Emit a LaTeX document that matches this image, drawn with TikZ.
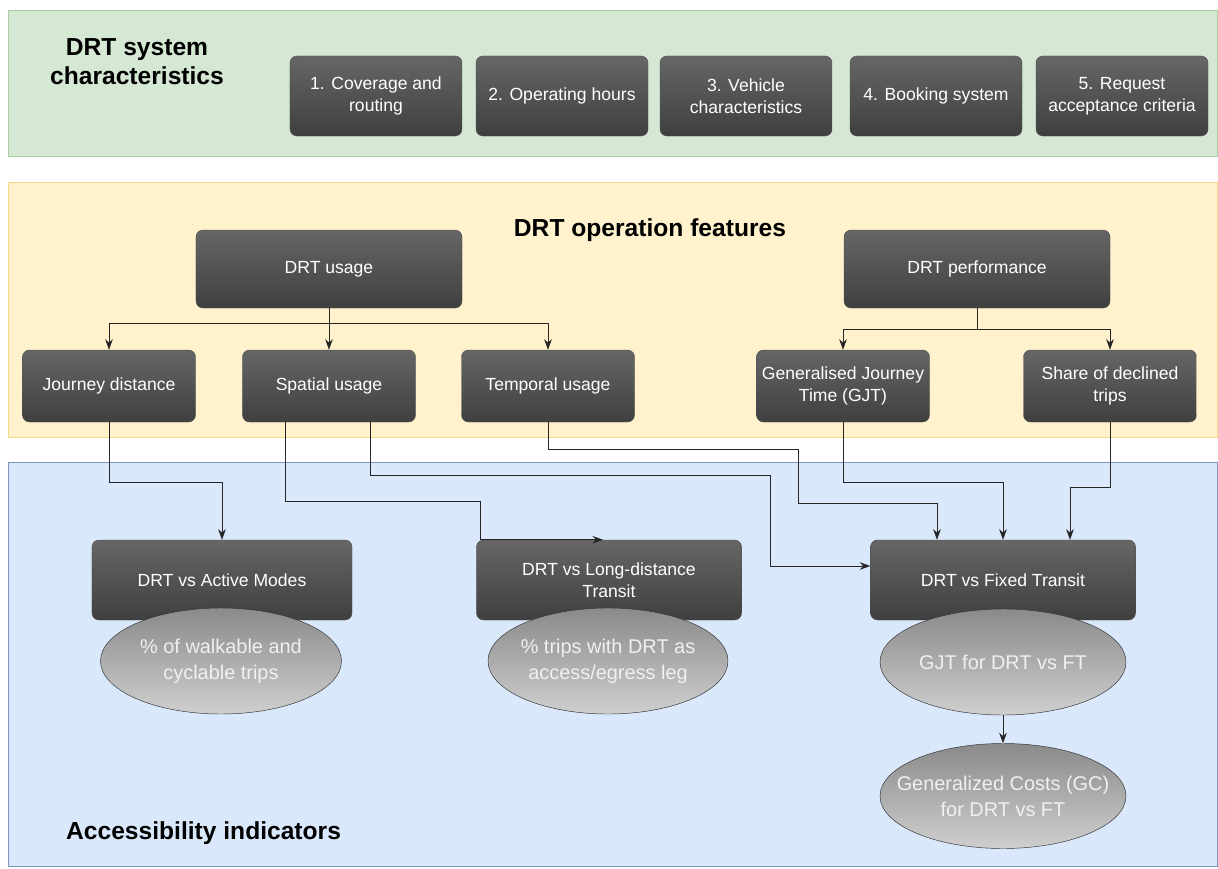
\documentclass[tikz,border=0pt]{standalone}
\usepackage{xcolor}
\usepackage{tikz}
\usepackage{fontspec}
\setmainfont{Liberation Sans}
\usetikzlibrary{shapes,arrows,positioning,calc,arrows.meta}

\definecolor{greenfill}{HTML}{D5E8D4}
\definecolor{greenline}{HTML}{A9CFA0}
\definecolor{yellowfill}{HTML}{FFF2CC}
\definecolor{yellowline}{HTML}{F5D98A}
\definecolor{bluefill}{HTML}{DAE8FC}
\definecolor{blueline}{HTML}{7E96B8}
\definecolor{boxtop}{HTML}{666666}
\definecolor{boxbot}{HTML}{3F3F3F}
\definecolor{elltop}{HTML}{8A8A8A}
\definecolor{ellbot}{HTML}{CFCFCF}

\tikzset{
    darkbox/.style={rectangle, rounded corners=6pt, draw=black!70, top color=boxtop, bottom color=boxbot,
        text=white, align=center, font=\fontsize{15}{19}\selectfont, inner sep=2pt},
    metric/.style={ellipse, draw=black!80, top color=elltop, bottom color=ellbot,
        text=white!94!black, align=center, font=\fontsize{17}{22}\selectfont, inner xsep=-24pt, inner ysep=0pt},
    heading/.style={font=\fontsize{21}{25}\selectfont\bfseries, align=center},
    link/.style={-{Stealth[length=9pt,width=6.5pt]}, line width=0.6pt, black!85},
}

\begin{document}
\begin{tikzpicture}[x=0.03cm, y=-0.03cm]
    \useasboundingbox (0,0) rectangle (1218,869);

    % panels
    \draw [greenline, fill=greenfill] (8,10) rectangle (1217,156);
    \draw [yellowline, fill=yellowfill] (8,182) rectangle (1217,437);
    \draw [blueline, fill=bluefill] (8,462) rectangle (1217,866);

    \node [heading] (sysT) at (137,62) {DRT system\\characteristics};
    \node [heading] (opT) at (650,230) {DRT operation features};
    \node [heading, anchor=west] (accT) at (62,833) {Accessibility indicators};

    % system characteristics
    \node [darkbox, minimum width=5.16cm, minimum height=2.4cm] (c1) at (376,96) {1. Coverage and\\routing};
    \node [darkbox, minimum width=5.16cm, minimum height=2.4cm] (c2) at (562,96) {2. Operating hours};
    \node [darkbox, minimum width=5.16cm, minimum height=2.4cm] (c3) at (746,96) {3. Vehicle\\characteristics};
    \node [darkbox, minimum width=5.16cm, minimum height=2.4cm] (c4) at (936,96) {4. Booking system};
    \node [darkbox, minimum width=5.16cm, minimum height=2.4cm] (c5) at (1122,96) {5. Request\\acceptance criteria};

    % operation features
    \node [darkbox, minimum width=7.98cm, minimum height=2.34cm] (usage) at (329,269) {DRT usage};
    \node [darkbox, minimum width=7.98cm, minimum height=2.34cm] (perf) at (977,269) {DRT performance};

    \node [darkbox, minimum width=5.19cm, minimum height=2.16cm] (jd) at (109,386) {Journey distance};
    \node [darkbox, minimum width=5.19cm, minimum height=2.16cm] (sp) at (329,386) {Spatial usage};
    \node [darkbox, minimum width=5.19cm, minimum height=2.16cm] (tu) at (548,386) {Temporal usage};
    \node [darkbox, minimum width=5.19cm, minimum height=2.16cm] (gjt) at (843,386) {Generalised Journey\\Time (GJT)};
    \node [darkbox, minimum width=5.19cm, minimum height=2.16cm] (sh) at (1110,386) {Share of declined\\trips};

    \coordinate (ubus) at (329,323);
    \draw [line width=0.6pt, black!85] (usage) -- (ubus);
    \draw [link] (ubus) -| (jd);
    \draw [link] (ubus) -- (sp);
    \draw [link] (ubus) -| (tu);

    \coordinate (pbus) at (977,329);
    \draw [line width=0.6pt, black!85] (perf) -- (pbus);
    \draw [link] (pbus) -| (gjt);
    \draw [link] (pbus) -| (sh);

    % accessibility indicators
    \node [darkbox, minimum width=7.8cm, minimum height=2.4cm] (active) at (222,580) {DRT vs Active Modes};
    \node [darkbox, minimum width=7.95cm, minimum height=2.4cm] (long) at (609,580) {DRT vs Long-distance\\Transit};
    \node [darkbox, minimum width=7.95cm, minimum height=2.4cm] (fixed) at (1003,580) {DRT vs Fixed Transit};

    \node [metric, minimum width=7.23cm, minimum height=3.18cm] (e1) at (221,661) {\% of walkable and\\cyclable trips};
    \node [metric, minimum width=7.2cm, minimum height=3.18cm] (e2) at (608,661) {\% trips with DRT as\\access/egress leg};
    \node [metric, minimum width=7.38cm, minimum height=3.18cm] (e3) at (1003,662) {GJT for DRT vs FT};
    \node [metric, minimum width=7.38cm, minimum height=3.15cm] (e4) at (1003,796) {Generalized Costs (GC)\\for DRT vs FT};

    \draw [link] (e3) -- (e4);

    % feature to indicator links
    \coordinate (j1) at (109,482);
    \draw [link] (jd) -- (j1) -| (active);

    \coordinate (s1) at (480,501);
    \draw [link] ($(sp.south)+(-44,0)$) |- (s1) -- (s1 |- long.north) -- ($(long.north)+(-6,0)$);

    \coordinate (s2) at (770,475);
    \draw [link] ($(sp.south)+(41,0)$) |- (s2) |- ($(fixed.west)+(0,-14)$);

    \coordinate (t1) at (798,449);
    \coordinate (t2) at (798,503);
    \draw [link] (tu.south) |- (t1) -- (t2) -| ($(fixed.north)+(-66,0)$);

    \coordinate (g1) at (843,482);
    \draw [link] (gjt) -- (g1) -| (fixed);

    \coordinate (h1) at (1110,487);
    \draw [link] (sh) -- (h1) -| ($(fixed.north)+(67,0)$);
\end{tikzpicture}
\end{document}
